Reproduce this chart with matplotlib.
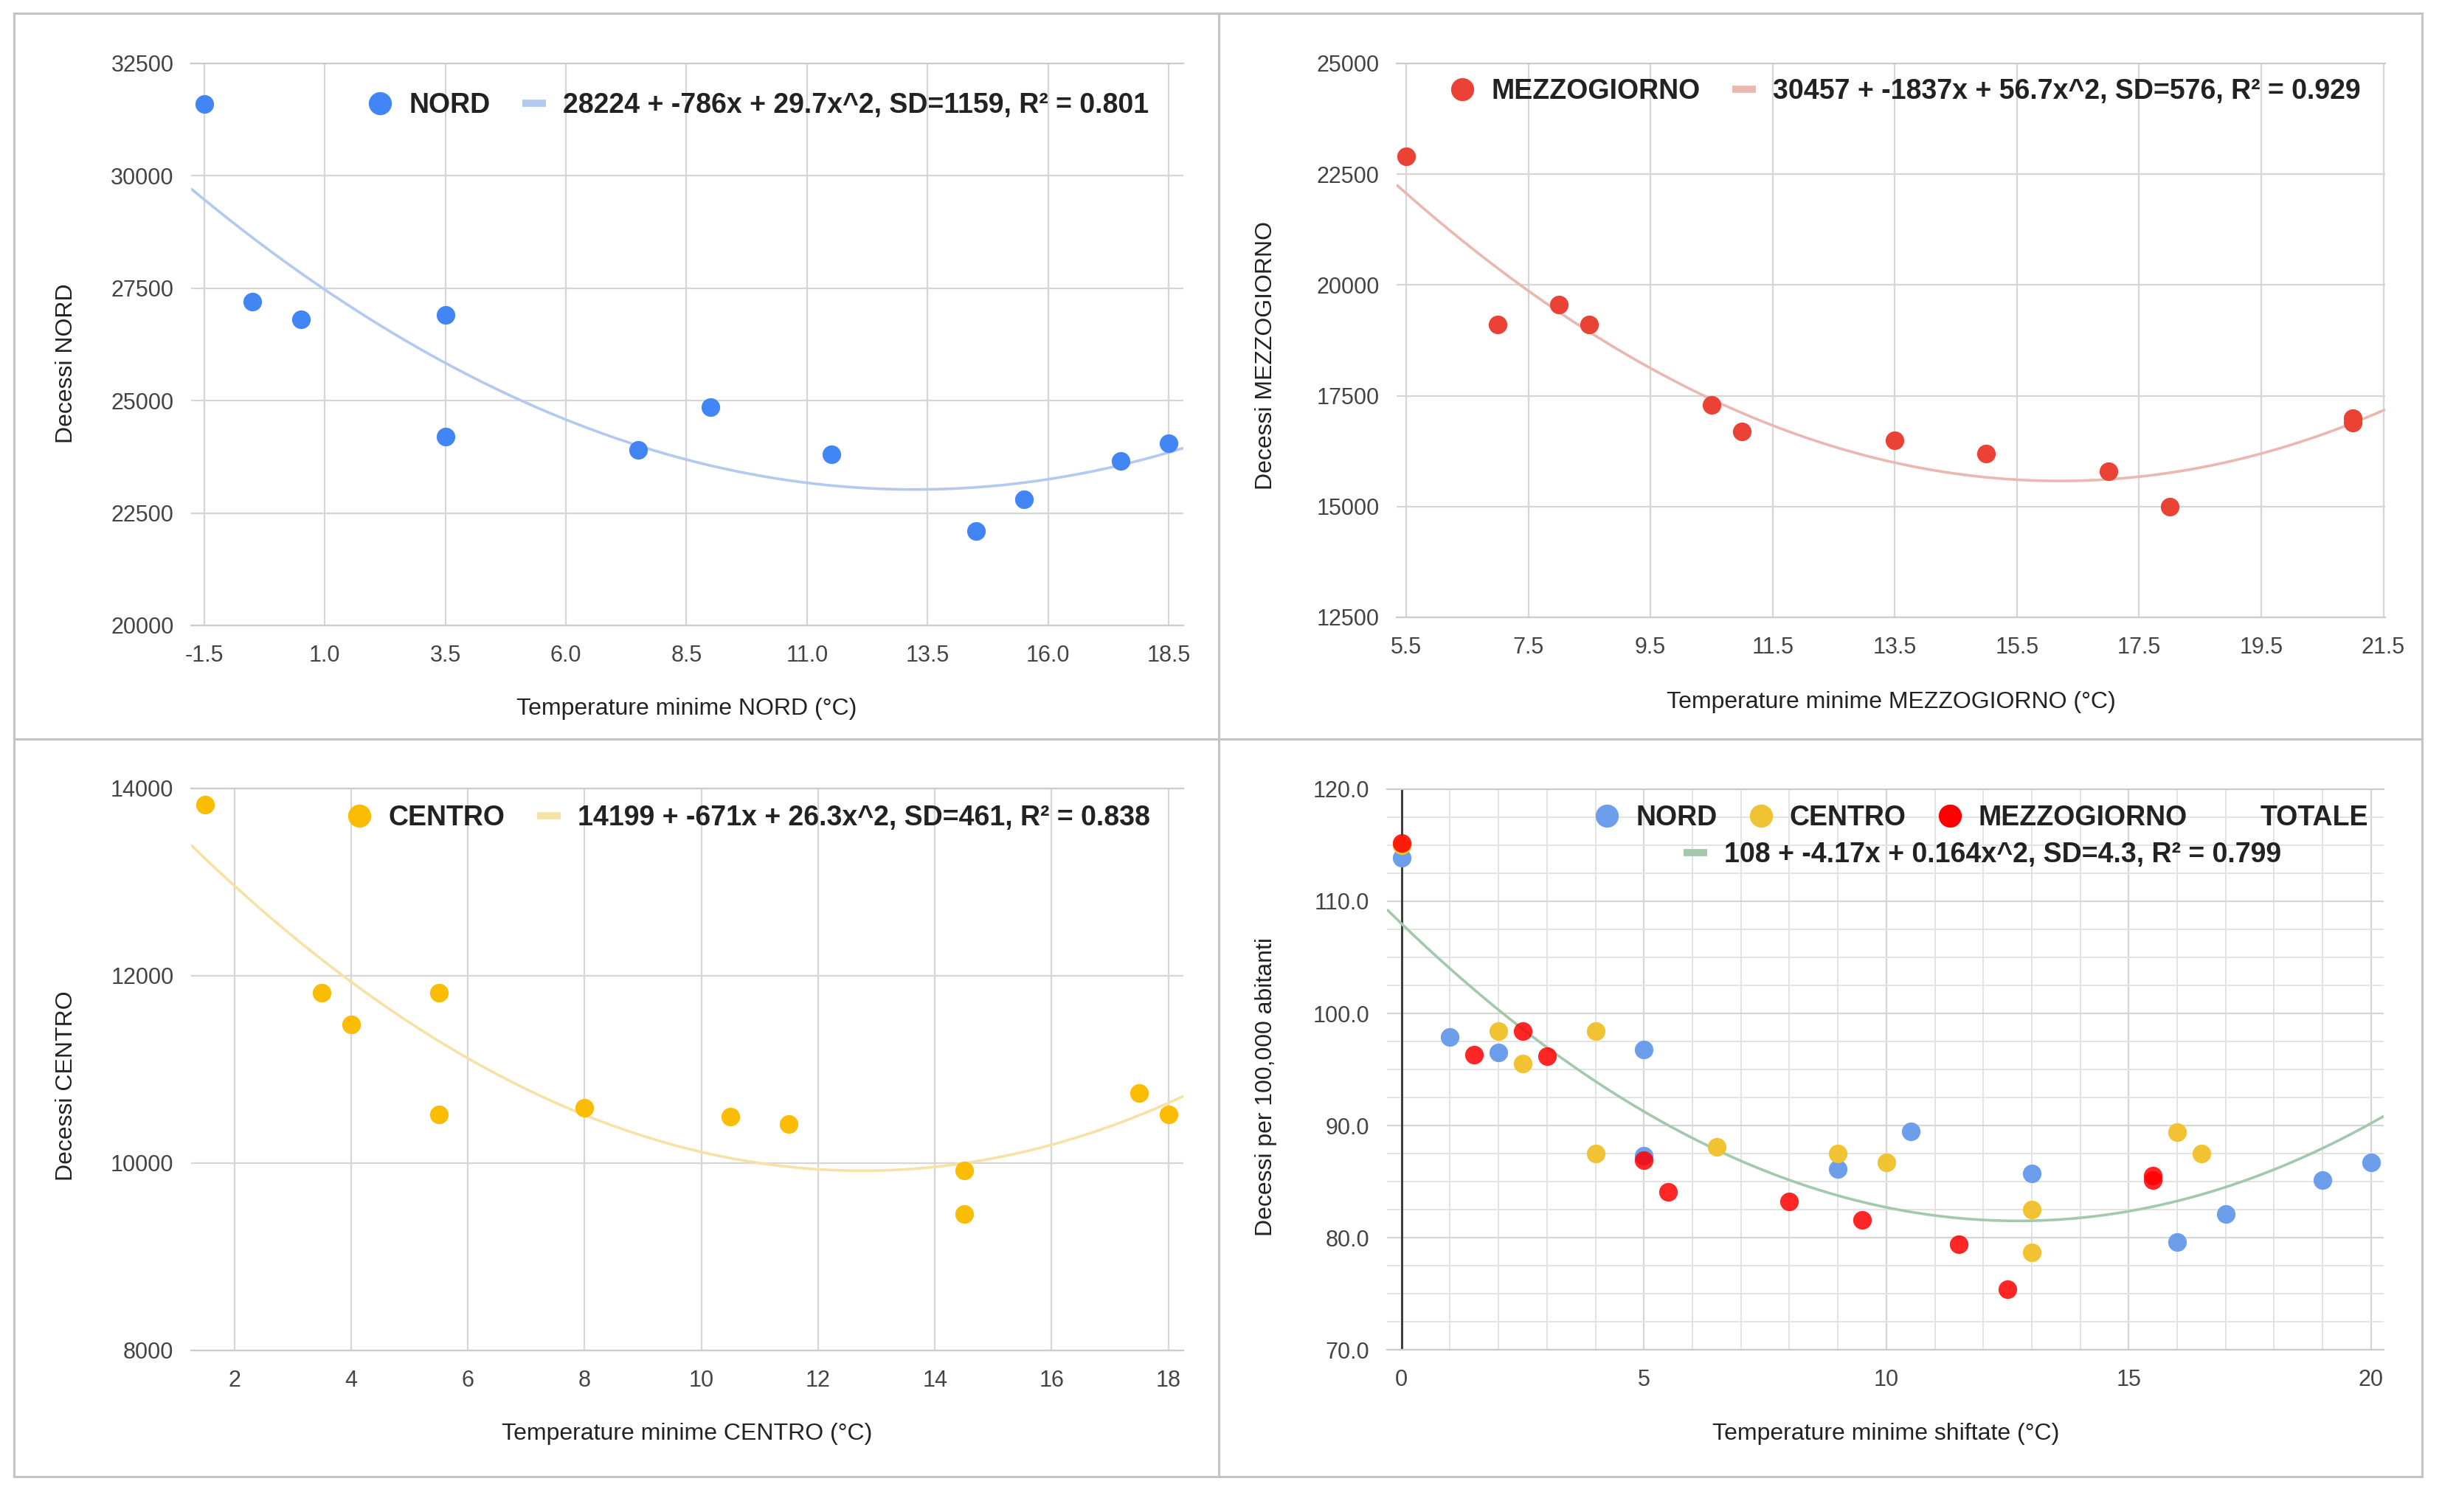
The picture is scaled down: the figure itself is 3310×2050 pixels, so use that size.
import numpy as np
import matplotlib
matplotlib.use("Agg")
import matplotlib.pyplot as plt
from matplotlib.lines import Line2D

plt.rcParams['font.family'] = ['Liberation Sans', 'DejaVu Sans']

# ---------------- data ----------------
nord_x = [-1.5, -0.5, 0.5, 3.5, 3.5, 7.5, 9.0, 11.5, 14.5, 15.5, 17.5, 18.5]
nord_y = [31600, 27200, 26800, 26900, 24200, 23900, 24850, 23800, 22100, 22800, 23650, 24050]
nord_coef = [28224, -786, 29.7]
nord_label = "28224 + -786x + 29.7x^2, SD=1159, R² = 0.801"

mezz_x = [5.5, 7.0, 8.0, 8.5, 10.5, 11.0, 13.5, 15.0, 17.0, 18.0, 21.0, 21.0]
mezz_y = [22900, 19100, 19550, 19100, 17300, 16700, 16500, 16200, 15800, 15000, 17000, 16900]
mezz_coef = [30457, -1837, 56.7]
mezz_label = "30457 + -1837x + 56.7x^2, SD=576, R² = 0.929"

cent_x = [1.5, 3.5, 4.0, 5.5, 5.5, 8.0, 10.5, 11.5, 14.5, 14.5, 17.5, 18.0]
cent_y = [13830, 11820, 11480, 11820, 10520, 10590, 10500, 10420, 9920, 9460, 10750, 10520]
cent_coef = [14199, -671, 26.3]
cent_label = "14199 + -671x + 26.3x^2, SD=461, R² = 0.838"

# shifted temperatures vs deaths per 100,000 inhabitants
sh_nord_x = [0, 1, 2, 5, 5, 9, 10.5, 13, 16, 17, 19, 20]
sh_nord_y = [113.9, 97.9, 96.5, 96.8, 87.3, 86.1, 89.5, 85.7, 79.6, 82.1, 85.1, 86.7]
sh_cent_x = [0, 2, 2.5, 4, 4, 6.5, 9, 10, 13, 13, 16, 16.5]
sh_cent_y = [115.0, 98.4, 95.5, 98.4, 87.5, 88.1, 87.5, 86.7, 82.5, 78.7, 89.4, 87.5]
sh_mezz_x = [0, 1.5, 2.5, 3, 5, 5.5, 8, 9.5, 11.5, 12.5, 15.5, 15.5]
sh_mezz_y = [115.2, 96.3, 98.4, 96.2, 86.9, 84.1, 83.2, 81.6, 79.4, 75.4, 85.5, 85.1]
tot_coef = [108, -4.17, 0.164]
tot_label = "108 + -4.17x + 0.164x^2, SD=4.3, R² = 0.799"

# ---------------- style ----------------
W, H = 3310, 2050
fig = plt.figure(figsize=(W / 100, H / 100), dpi=100)
fig.patch.set_facecolor('white')

GRID = '#d6d6d6'
TICK_FS = 22
LAB_FS = 23
LEG_FS = 27
MS = 330          # scatter marker area (pt^2)
LEG_MS = 21.5

def px_axes(l, r, t, b):
    return fig.add_axes([l / W, 1 - b / H, (r - l) / W, (b - t) / H])

def style(ax, xlim, ylim, xticks, yticks, xfmt, yfmt):
    ax.set_xlim(*xlim)
    ax.set_ylim(*ylim)
    ax.set_xticks(xticks)
    ax.set_yticks(yticks)
    ax.set_xticklabels([xfmt.format(v) for v in xticks])
    ax.set_yticklabels([yfmt.format(v) for v in yticks])
    ax.tick_params(length=0, labelsize=TICK_FS, labelcolor='#444444')
    ax.tick_params(axis='y', pad=17)
    ax.tick_params(axis='x', pad=19)
    ax.grid(True, color=GRID, lw=1.6, zorder=0)
    ax.set_axisbelow(True)
    for s in ['left', 'right']:
        ax.spines[s].set_visible(False)
    for s in ['top', 'bottom']:
        ax.spines[s].set_color('#cccccc')
        ax.spines[s].set_linewidth(1.6)

def trend(ax, coef, color):
    x0, x1 = ax.get_xlim()
    xs = np.linspace(x0, x1, 300)
    ys = coef[0] + coef[1] * xs + coef[2] * xs ** 2
    ax.plot(xs, ys, color=color, lw=2.6, zorder=2, solid_capstyle='butt')

def legend(ax, handles, labels, ncol, cx, cy):
    leg = ax.legend(handles, labels, ncol=ncol, loc='center',
                    bbox_to_anchor=(cx / W, 1 - cy / H), bbox_transform=fig.transFigure,
                    frameon=False, borderpad=0, borderaxespad=0,
                    handlelength=0.85, handletextpad=0.62, columnspacing=1.15,
                    prop={'size': LEG_FS, 'weight': 'bold'})
    for t in leg.get_texts():
        t.set_color('#222222')
    return leg

def mk(c):
    return Line2D([], [], ls='', marker='o', color=c, markersize=LEG_MS)

def ln(c):
    return Line2D([], [], color=c, lw=7, solid_capstyle='butt')

# ---------------- panel borders ----------------
bc = '#c4c4c4'
for (x0, y0, x1, y1) in [(19, 18, 3283, 18), (19, 2002, 3283, 2002), (19, 18, 19, 2002),
                         (3283, 18, 3283, 2002), (1652, 18, 1652, 2002), (19, 1002, 3283, 1002)]:
    fig.add_artist(Line2D([x0 / W, x1 / W], [1 - y0 / H, 1 - y1 / H], color=bc, lw=2.2))

# ---------------- top-left: NORD ----------------
C_N = '#4285f4'
ax1 = px_axes(259, 1604, 86, 848)
style(ax1, (-1.775, 18.806), (20000, 32500), [-1.5 + 2.5 * i for i in range(9)],
      [20000 + 2500 * i for i in range(6)], '{:.1f}', '{:.0f}')
trend(ax1, nord_coef, '#b3c9ef')
ax1.scatter(nord_x, nord_y, s=MS, color=C_N, zorder=3, linewidths=0)
legend(ax1, [mk(C_N), ln('#b3c9ef')], ['NORD', nord_label], 2, 1028, 143)
fig.text(931 / W, 1 - 961 / H, 'Temperature minime NORD (°C)', ha='center', va='center',
         fontsize=LAB_FS, color='#222222')
fig.text(90 / W, 1 - 493 / H, 'Decessi NORD', ha='center', va='center', rotation=90,
         fontsize=LAB_FS, color='#222222')

# ---------------- top-right: MEZZOGIORNO ----------------
C_M = '#ea4335'
ax2 = px_axes(1893, 3233, 86, 837)
style(ax2, (5.343, 21.53), (12500, 25000), [5.5 + 2 * i for i in range(9)],
      [12500 + 2500 * i for i in range(6)], '{:.1f}', '{:.0f}')
trend(ax2, mezz_coef, '#eab8b1')
ax2.scatter(mezz_x, mezz_y, s=MS, color=C_M, zorder=3, linewidths=0)
legend(ax2, [mk(C_M), ln('#eab8b1')], ['MEZZOGIORNO', mezz_label], 2, 2583, 124)
fig.text(2563 / W, 1 - 952 / H, 'Temperature minime MEZZOGIORNO (°C)', ha='center', va='center',
         fontsize=LAB_FS, color='#222222')
fig.text(1716 / W, 1 - 482 / H, 'Decessi MEZZOGIORNO', ha='center', va='center', rotation=90,
         fontsize=LAB_FS, color='#222222')

# ---------------- bottom-left: CENTRO ----------------
C_C = '#fbbc04'
ax3 = px_axes(259, 1604, 1069, 1831)
style(ax3, (1.26, 18.257), (8000, 14000), [2 + 2 * i for i in range(9)],
      [8000 + 2000 * i for i in range(4)], '{:.0f}', '{:.0f}')
trend(ax3, cent_coef, '#f7e2a6')
ax3.scatter(cent_x, cent_y, s=MS, color=C_C, zorder=3, linewidths=0)
legend(ax3, [mk(C_C), ln('#f7e2a6')], ['CENTRO', cent_label], 2, 1015, 1109)
fig.text(931 / W, 1 - 1944 / H, 'Temperature minime CENTRO (°C)', ha='center', va='center',
         fontsize=LAB_FS, color='#222222')
fig.text(90 / W, 1 - 1472 / H, 'Decessi CENTRO', ha='center', va='center', rotation=90,
         fontsize=LAB_FS, color='#222222')

# ---------------- bottom-right: all regions, shifted ----------------
C_N2, C_C2, C_M2, C_T = '#6d9eeb', '#f1c232', '#ff0000', '#a3c9ac'
ax4 = px_axes(1880, 3231, 1070, 1830)
style(ax4, (-0.30, 20.26), (70, 120), [0, 5, 10, 15, 20],
      [70 + 10 * i for i in range(6)], '{:.0f}', '{:.1f}')
ax4.set_xticks(np.arange(0, 21, 1), minor=True)
ax4.set_yticks(np.arange(70, 120.1, 2.5), minor=True)
ax4.tick_params(which='minor', length=0)
ax4.grid(True, which='minor', color='#e3e3e3', lw=1.4, zorder=0)
ax4.axvline(0, color='#333333', lw=2, zorder=1)
trend(ax4, tot_coef, C_T)
ax4.scatter(sh_nord_x, sh_nord_y, s=MS, color=C_N2, zorder=3, linewidths=0)
ax4.scatter(sh_cent_x, sh_cent_y, s=MS, color=C_C2, zorder=3, linewidths=0)
ax4.scatter(sh_mezz_x, sh_mezz_y, s=MS, color=C_M2, zorder=3, linewidths=0, alpha=0.85)
leg1 = legend(ax4, [mk(C_N2), mk(C_C2), mk(C_M2), Line2D([], [], ls='')],
              ['NORD', 'CENTRO', 'MEZZOGIORNO', 'TOTALE'], 4, 2686, 1109)
ax4.add_artist(leg1)
legend(ax4, [ln(C_T)], [tot_label], 1, 2687, 1159)
fig.text(2556 / W, 1 - 1944 / H, 'Temperature minime shiftate (°C)', ha='center', va='center',
         fontsize=LAB_FS, color='#222222')
fig.text(1716 / W, 1 - 1474 / H, 'Decessi per 100,000 abitanti', ha='center', va='center',
         rotation=90, fontsize=LAB_FS, color='#222222')

fig.savefig('out.png', dpi=100, facecolor='white')
